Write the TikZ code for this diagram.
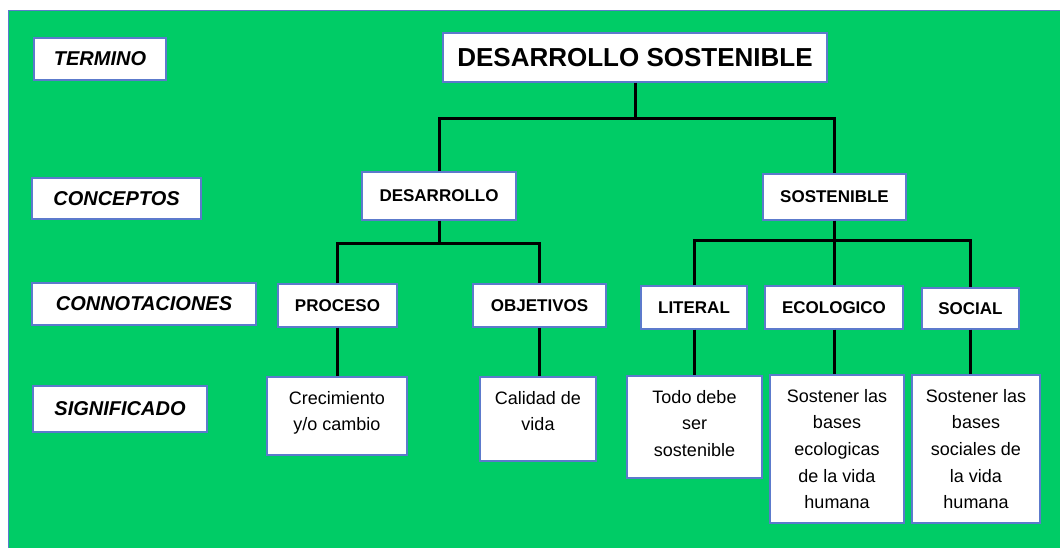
\documentclass[tikz,border=0pt]{standalone}
\usepackage{fontspec}
\setmainfont{Liberation Sans}
\definecolor{bggreen}{RGB}{0,204,102}
\definecolor{boxedge}{RGB}{92,122,204}
\newcommand{\desctext}[3]{\parbox[c][#2pt][t]{#1pt}{\centering\fontsize{18}{26.7}\selectfont\rule{0pt}{27pt}#3}}
\tikzset{
  basebox/.style={draw=boxedge, line width=1.1pt, fill=white, inner sep=0pt, text=black, align=center},
  labelbox/.style={basebox, font=\fontsize{20}{24}\selectfont\bfseries\itshape},
  levelbox/.style={basebox, font=\fontsize{17}{20}\selectfont\bfseries},
  titlebox/.style={basebox, font=\fontsize{26}{30}\selectfont\bfseries},
  descbox/.style={basebox},
  conn/.style={draw=black, line width=3pt, line join=miter}
}
\begin{document}
\begin{tikzpicture}[x=1pt, y=-1pt]
\useasboundingbox (0,0) rectangle (1060,548);
\fill[white] (0,0) rectangle (1060,548);
\draw[fill=bggreen, draw=boxedge, line width=1pt] (8,11) rectangle (1064,552);

% row labels
\node[labelbox, minimum width=132pt, minimum height=42pt] (termino) at (100,59) {TERMINO};
\node[labelbox, minimum width=169pt, minimum height=41pt] (conceptos) at (116.5,198.5) {CONCEPTOS};
\node[labelbox, minimum width=224pt, minimum height=42pt] (connot) at (144,304) {CONNOTACIONES};
\node[labelbox, minimum width=174pt, minimum height=46pt] (signif) at (120,409) {SIGNIFICADO};

% tree
\node[titlebox, minimum width=384pt, minimum height=49pt] (top) at (635,57.5) {DESARROLLO SOSTENIBLE};
\node[levelbox, minimum width=154pt, minimum height=48pt] (desa) at (439,196) {DESARROLLO};
\node[levelbox, minimum width=143pt, minimum height=46pt] (sost) at (834.5,197) {SOSTENIBLE};
\node[levelbox, minimum width=119pt, minimum height=43pt] (proceso) at (337.5,305.5) {PROCESO};
\node[levelbox, minimum width=133pt, minimum height=43pt] (objetivos) at (539.5,305.5) {OBJETIVOS};
\node[levelbox, minimum width=106pt, minimum height=43pt] (literal) at (694,307.5) {LITERAL};
\node[levelbox, minimum width=138pt, minimum height=43pt] (ecologico) at (834,307.5) {ECOLOGICO};
\node[levelbox, minimum width=97pt, minimum height=41pt] (social) at (970.5,308.5) {SOCIAL};

\node[descbox] (crec) at (337,416) {\desctext{140}{78}{Crecimiento\\y/o cambio}};
\node[descbox] (calidad) at (538,419) {\desctext{116}{84}{Calidad de\\vida}};
\node[descbox] (todo) at (694.5,427) {\desctext{135}{102}{Todo debe\\ser\\sostenible}};
\node[descbox] (ecolbox) at (837,449) {\desctext{134}{148}{Sostener las\\bases\\ecologicas\\de la vida\\humana}};
\node[descbox] (socialbox) at (976,449) {\desctext{128}{148}{Sostener las\\bases\\sociales de\\la vida\\humana}};

% connectors
\draw[conn] (top.south) -- ++(0,36);
\draw[conn] (desa.north) |- ([yshift=-36pt]top.south) -| (sost.north);
\draw[conn] (desa.south) -- ++(0,23);
\draw[conn] (proceso.north) |- ([yshift=-23pt]desa.south) -| (objetivos.north);
\draw[conn] (sost.south) -- (sost.south |- ecologico.north);
\draw[conn] (literal.north) |- ([yshift=-20pt]sost.south) -| (social.north);
\draw[conn] (proceso.south) -- (proceso.south |- crec.north);
\draw[conn] (objetivos.south) -- (objetivos.south |- calidad.north);
\draw[conn] (literal.south) -- (literal.south |- todo.north);
\draw[conn] (ecologico.south) -- (ecologico.south |- ecolbox.north);
\draw[conn] (social.south) -- (social.south |- socialbox.north);
\end{tikzpicture}
\end{document}
